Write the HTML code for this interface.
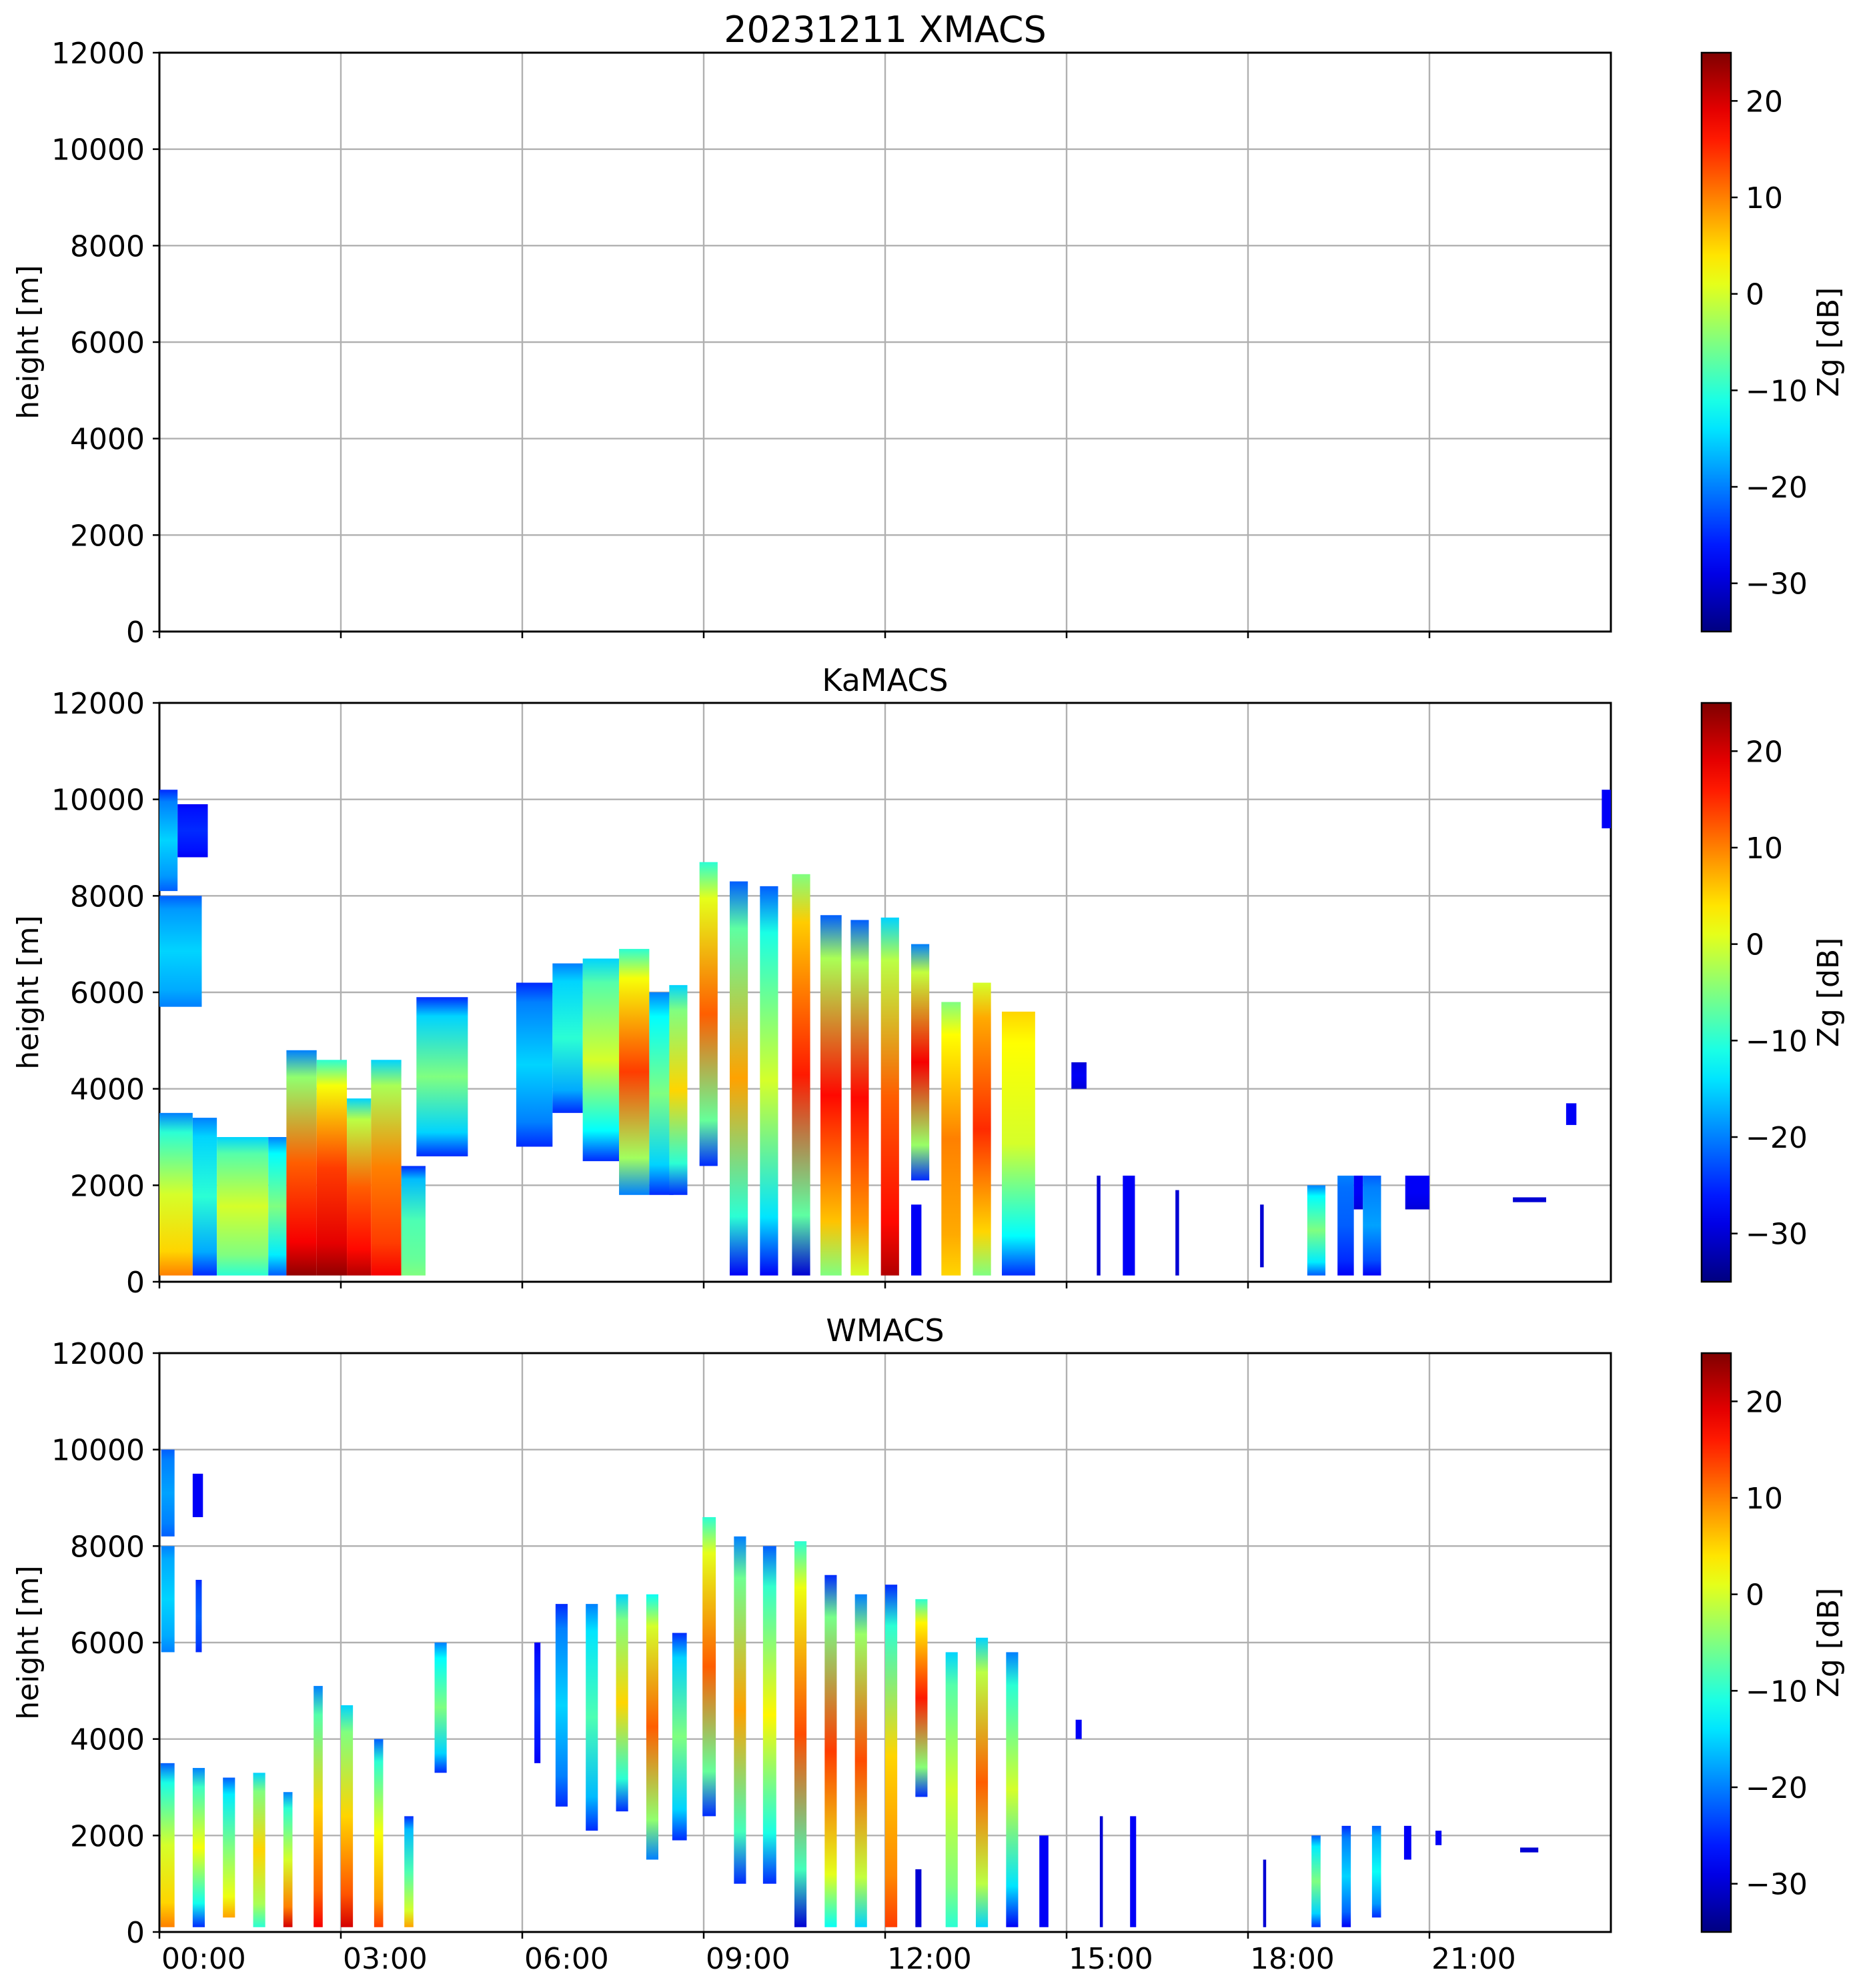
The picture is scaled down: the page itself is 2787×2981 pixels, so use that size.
<!DOCTYPE html>
<html><head><meta charset="utf-8"><style>
html,body{margin:0;padding:0;background:#fff;}
svg{display:block;font-family:"DejaVu Sans","Liberation Sans",sans-serif;}
</style></head><body>
<svg id="fig" xmlns="http://www.w3.org/2000/svg" width="2787" height="2981" viewBox="0 0 2787 2981"></svg>
<script>
// ---- Ka-band data (hours, meters, dB) ----
const kaStart = [0.0,0.3,0.0,0.0,0.55,0.95,1.8,2.1,2.6,3.1,3.5,4.0,4.25,5.9,6.5,7.0,7.6,8.1,8.43,8.93,9.43,9.93,10.46,10.93,11.43,11.93,12.43,12.43,12.93,13.45,13.93,15.08,15.5,15.93,16.8,18.2,18.98,19.48,19.75,19.9,20.6,22.38,23.26,23.85];
const kaEnd   = [0.3,0.8,0.7,0.55,0.95,1.8,2.1,2.6,3.1,3.5,4.0,4.4,5.1,6.5,7.0,7.6,8.1,8.5,8.73,9.23,9.73,10.23,10.76,11.28,11.73,12.23,12.73,12.6,13.25,13.75,14.48,15.33,15.56,16.13,16.86,18.26,19.28,19.75,19.9,20.2,21.0,22.93,23.43,24.0];
const kaBase  = [8100,8800,5700,130,130,130,130,130,130,130,130,130,2600,2800,3500,2500,1800,1800,1800,2400,130,130,130,130,130,130,2100,130,130,130,130,4000,130,130,130,300,130,130,1500,130,1500,1650,3250,9400];
const kaTop   = [10200,9900,8000,3500,3400,3000,3000,4800,4600,3800,4600,2400,5900,6200,6600,6700,6900,6000,6150,8700,8300,8200,8450,7600,7500,7550,7000,1600,5800,6200,5600,4550,2200,2200,1900,1600,2000,2200,2200,2200,2200,1750,3700,10200];
const kaDbTop = [-25,-28,-22,-20,-20,-15,-20,-20,-10,-15,-15,-25,-25,-25,-20,-15,-10,-20,-15,-10,-22,-22,-5,-22,-22,-15,-20,-28,-5,0,5,-30,-30,-28,-30,-30,-20,-20,-28,-22,-28,-30,-28,-28];
const kaDbMid = [-15,-25,-15,0,-10,0,-5,12,14,12,10,-8,-5,-15,-10,0,14,-5,5,12,8,0,16,17,17,12,18,-28,10,15,0,-28,-30,-28,-30,-30,-5,-22,-28,-18,-28,-30,-28,-28];
const kaDbBot = [-22,-28,-20,10,-25,-10,-22,24,24,22,18,-5,-25,-25,-25,-25,-20,-25,-25,-25,-28,-28,-30,-5,0,22,-25,-28,5,-5,-25,-30,-30,-28,-30,-30,-22,-28,-30,-28,-30,-30,-28,-28];

// ---- W-band data ----
const wStart = [0.03,0.03,0.55,0.6,0.02,0.55,1.05,1.55,2.05,2.55,3.0,3.55,4.05,4.55,6.2,6.55,7.05,7.55,8.05,8.48,8.98,9.5,9.98,10.5,11.0,11.5,12.0,12.5,12.5,13.0,13.5,14.0,14.55,15.15,15.55,16.05,18.25,19.05,19.55,20.05,20.58,21.1,22.5];
const wEnd   = [0.25,0.25,0.72,0.7,0.25,0.75,1.25,1.75,2.2,2.7,3.2,3.7,4.2,4.75,6.3,6.75,7.25,7.75,8.25,8.72,9.2,9.7,10.2,10.7,11.2,11.7,12.2,12.7,12.6,13.2,13.7,14.2,14.7,15.25,15.6,16.15,18.3,19.2,19.7,20.2,20.7,21.2,22.8];
const wBase  = [8200,5800,8600,5800,100,100,300,100,100,100,100,100,100,3300,3500,2600,2100,2500,1500,1900,2400,1000,1000,100,100,100,100,2800,100,100,100,100,100,4000,100,100,100,100,100,300,1500,1800,1650];
const wTop   = [10000,8000,9500,7300,3500,3400,3200,3300,2900,5100,4700,4000,2400,6000,6000,6800,6800,7000,7000,6200,8600,8200,8000,8100,7400,7000,7200,6900,1300,5800,6100,5800,2000,4400,2400,2400,1500,2000,2200,2200,2200,2100,1750];
const wDbTop = [-22,-20,-28,-25,-22,-20,-22,-15,-20,-20,-15,-22,-25,-20,-28,-25,-20,-15,-12,-25,-10,-20,-22,-10,-25,-20,-25,-10,-30,-15,-15,-20,-28,-28,-30,-28,-30,-22,-25,-22,-28,-28,-30];
const wDbMid = [-18,-15,-28,-22,0,2,-5,5,0,5,5,2,-8,-5,-25,-15,-8,5,12,-5,12,8,3,13,14,13,5,16,-30,0,12,0,-28,-28,-30,-28,-30,-5,-15,-12,-28,-28,-30];
const wDbBot = [-22,-20,-28,-25,10,-25,8,-10,20,18,20,14,8,-25,-28,-25,-25,-25,-20,-25,-25,-25,-25,-30,-12,-15,14,-25,-30,-10,-15,-28,-28,-28,-30,-28,-30,-25,-28,-25,-28,-28,-30];

// tick labels
const yTicks = [0,2000,4000,6000,8000,10000,12000];
const xTicks = [0,3,6,9,12,15,18,21];
const xTickLabels = ["00:00","03:00","06:00","09:00","12:00","15:00","18:00","21:00"];
const cbTicks = [-30,-20,-10,0,10,20];

const NS = "http://www.w3.org/2000/svg";
const svg = document.getElementById('fig');
const L = 239, R = 2415, PH = 868;
const tops = [79, 1054, 2029];
const CBX = 2551, CBW = 44, DBMIN = -35, DBMAX = 25;

function mk(tag, attrs, parent){ const e=document.createElementNS(NS,tag); for(const k in attrs) e.setAttribute(k,attrs[k]); (parent||svg).appendChild(e); return e; }
function xs(h){ return L + h/24*(R-L); }
function ys(top,m){ return top + PH - m/12000*PH; }
function clamp(v){ return Math.max(0,Math.min(1,v)); }
function jet(db){
  const v = clamp((db-DBMIN)/(DBMAX-DBMIN));
  const r=clamp(1.5-Math.abs(4*v-3)), g=clamp(1.5-Math.abs(4*v-2)), b=clamp(1.5-Math.abs(4*v-1));
  return `rgb(${Math.round(r*255)},${Math.round(g*255)},${Math.round(b*255)})`;
}
const defs = mk('defs',{});
let gid = 0;

function drawCells(top, st, en, ba, tp, d0, d1, d2, name){
  const g = mk('g',{});
  
  
  for(let i=0;i<st.length;i++){
    const id='grad'+(gid++);
    const lg = mk('linearGradient',{id:id,x1:0,y1:0,x2:0,y2:1},defs);
    mk('stop',{offset:'0%','stop-color':jet(d0[i])},lg);
    mk('stop',{offset:'12%','stop-color':jet((d0[i]+d1[i])/2)},lg);
    mk('stop',{offset:'50%','stop-color':jet(d1[i])},lg);
    mk('stop',{offset:'85%','stop-color':jet((d1[i]+d2[i])/2)},lg);
    mk('stop',{offset:'100%','stop-color':jet(d2[i])},lg);
    const x0=xs(st[i]), x1=xs(en[i]), y0=ys(top,tp[i]), y1=ys(top,ba[i]);
    const r = mk('rect',{x:x0,y:y0,width:Math.max(2,x1-x0),height:y1-y0,fill:'url(#'+id+')'},g);
    
    
  }
}

// colorbar gradient
const cbg = mk('linearGradient',{id:'cbgrad',x1:0,y1:1,x2:0,y2:0},defs);
for(let k=0;k<=20;k++){ const db=DBMIN+(DBMAX-DBMIN)*k/20; mk('stop',{offset:(k*5)+'%','stop-color':jet(db)},cbg); }

const titles = ["20231211 XMACS","KaMACS","WMACS"];
tops.forEach((top,p)=>{
  const panel = mk('g',{});
  
  
  // grid
  yTicks.forEach(v=>{ const y=ys(top,v); mk('line',{x1:L,x2:R,y1:y,y2:y,stroke:'#b0b0b0','stroke-width':2.4},panel); });
  xTicks.forEach(h=>{ const x=xs(h); mk('line',{x1:x,x2:x,y1:top,y2:top+PH,stroke:'#b0b0b0','stroke-width':2.4},panel); });
  if(p===1) drawCells(top,kaStart,kaEnd,kaBase,kaTop,kaDbTop,kaDbMid,kaDbBot,'ka');
  if(p===2) drawCells(top,wStart,wEnd,wBase,wTop,wDbTop,wDbMid,wDbBot,'w');
  // frame
  mk('rect',{x:L,y:top,width:R-L,height:PH,fill:'none',stroke:'#000','stroke-width':3},panel);
  // y ticks
  yTicks.forEach(v=>{ const y=ys(top,v);
    mk('line',{x1:L-10,x2:L,y1:y,y2:y,stroke:'#000','stroke-width':2.5},panel);
    const t=mk('text',{x:217,y:y+16,'font-size':44,'text-anchor':'end'},panel); t.textContent=v;
    
    
  });
  // x ticks
  xTicks.forEach((h,i)=>{ const x=xs(h);
    mk('line',{x1:x,x2:x,y1:top+PH,y2:top+PH+10,stroke:'#000','stroke-width':2.5},panel);
    if(p===2){ const t=mk('text',{x:x+3,y:2952,'font-size':44},panel); t.textContent=xTickLabels[i];
      
       }
  });
  // y label
  const yl=mk('text',{x:0,y:0,'font-size':44,'text-anchor':'middle',transform:`translate(57,${top+PH/2}) rotate(-90)`},panel);
  yl.textContent='height [m]';
  
  
  // title
  const tt=mk('text',{x:(L+R)/2,y:p===0?63:top-18,'font-size':p===0?54:46,'text-anchor':'middle'},panel);
  tt.textContent=titles[p];
  
  
  // colorbar
  const cb=mk('g',{},panel);
  
  
  mk('rect',{x:CBX,y:top,width:CBW,height:PH,fill:'url(#cbgrad)',stroke:'#000','stroke-width':2.5},cb);
  cbTicks.forEach(v=>{ const y=top+PH-(v-DBMIN)/(DBMAX-DBMIN)*PH;
    mk('line',{x1:CBX+CBW,x2:CBX+CBW+10,y1:y,y2:y,stroke:'#000','stroke-width':2.5},cb);
    const t=mk('text',{x:2617,y:y+16,'font-size':44},cb); t.textContent=(v<0?'\u2212'+(-v):v);
    
    
  });
  const cl=mk('text',{x:0,y:0,'font-size':44,'text-anchor':'middle',transform:`translate(2756,${top+PH/2}) rotate(-90)`},cb);
  cl.textContent='Zg [dB]';
  
  
});
</script>
</body></html>
